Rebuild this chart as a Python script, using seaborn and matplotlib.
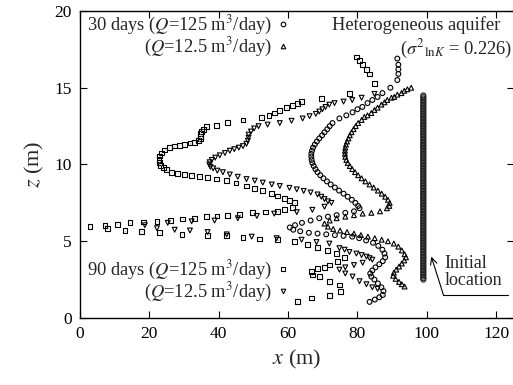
import matplotlib
matplotlib.use("Agg")
import matplotlib.pyplot as plt
import seaborn as sns
from matplotlib.lines import Line2D

# ---------------- data ----------------
# 30 days, Q = 125 m3/day (circles)
a_x = [91.5, 91.8, 91.8, 91.8, 91.5, 89.5,
       87.2, 85.8, 84.3, 82.9, 81.4, 80.0, 78.6, 76.8, 74.8, 72.8,
       72.0, 71.3, 70.5, 69.8, 69.0, 68.3, 67.7, 67.2, 66.9, 66.7, 66.7, 66.8, 67.0,
       67.4, 67.9, 68.5, 69.3, 70.2, 71.2, 72.3, 73.5, 74.7, 76.0, 77.2, 78.4, 79.4,
       80.2, 80.6,
       79.0, 76.5, 74.0, 71.5, 69.0, 66.5, 64.0, 62.0, 60.5,
       61.5, 63.5, 66.0, 68.5, 71.0, 73.5, 76.0, 78.5, 80.5, 82.5, 84.5, 86.0, 87.2,
       87.8, 88.0, 87.3, 86.3, 85.2, 84.3, 83.7, 84.0, 84.9, 85.9, 86.9, 87.5, 87.3,
       86.3, 85.0, 83.5]
a_z = [16.9, 16.5, 16.2, 15.9, 15.5, 15.0,
       14.65, 14.4, 14.2, 14.0, 13.75, 13.6, 13.4, 13.2, 13.0, 12.7,
       12.5, 12.3, 12.1, 11.9, 11.7, 11.5, 11.3, 11.1, 10.9, 10.7, 10.5, 10.3, 10.1,
       9.9, 9.7, 9.5, 9.3, 9.1, 8.9, 8.7, 8.5, 8.3, 8.1, 7.9, 7.7, 7.5,
       7.3, 7.15,
       6.95, 6.85, 6.7, 6.6, 6.5, 6.35, 6.2, 6.05, 5.9,
       5.75, 5.65, 5.55, 5.5, 5.45, 5.4, 5.35, 5.3, 5.2, 5.05, 4.9, 4.7, 4.45,
       4.2, 3.95, 3.7, 3.5, 3.3, 3.1, 2.9, 2.7, 2.5, 2.25, 2.0, 1.75, 1.5,
       1.35, 1.2, 1.05]

# 30 days, Q = 12.5 m3/day (up triangles)
b_x = [95.5, 94.4, 93.5, 92.7, 91.5, 90.6, 89.8, 88.6, 87.8, 86.9, 85.8, 84.9, 84.0,
       82.9, 82.0, 81.2,
       80.2, 79.5, 78.9, 78.3, 77.8, 77.4, 77.0, 76.7, 76.5, 76.4, 76.4, 76.5, 76.8,
       77.2, 77.8, 78.5, 79.3, 80.2, 81.2, 82.3, 83.5, 84.7, 85.9, 87.0, 88.0, 88.8,
       89.3, 89.2, 88.5,
       86.5, 84.0, 81.5, 79.0, 76.5, 74.0, 72.0, 70.5,
       71.5, 73.0, 75.0, 77.0, 79.0, 81.0, 83.0, 85.0, 87.0, 88.8, 90.5, 91.8, 92.8,
       93.6, 94.0, 93.5, 92.8, 92.0, 91.2, 90.5, 90.3, 91.0, 92.0, 92.8, 93.6]
b_z = [15.0, 14.9, 14.8, 14.65, 14.55, 14.4, 14.35, 14.2, 14.05, 13.9, 13.7, 13.55, 13.35,
       13.2, 13.1, 12.9,
       12.7, 12.5, 12.3, 12.1, 11.9, 11.7, 11.5, 11.3, 11.1, 10.9, 10.7, 10.5, 10.3,
       10.1, 9.9, 9.7, 9.5, 9.3, 9.1, 8.9, 8.7, 8.5, 8.3, 8.1, 7.9, 7.7,
       7.5, 7.3, 7.15,
       6.95, 6.85, 6.8, 6.7, 6.6, 6.5, 6.35, 6.15,
       5.95, 5.8, 5.7, 5.6, 5.5, 5.4, 5.3, 5.2, 5.1, 5.0, 4.85, 4.65, 4.4,
       4.15, 3.95, 3.75, 3.55, 3.35, 3.15, 2.95, 2.75, 2.55, 2.35, 2.2, 2.05]

# 90 days, Q = 125 m3/day (squares)
c_x = [79.7, 80.6, 81.4, 82.5, 83.5, 84.9, 77.7, 69.6, 63.9, 62.7, 61.3, 59.6, 57.6,
       56.2, 54.5, 52.4, 47.0, 42.6, 39.4, 36.5, 35.6, 35.0, 34.7, 34.8, 34.7, 34.2,
       33.1, 31.7, 30.2, 28.6, 27.2, 25.7, 24.4, 23.5, 23.0, 22.8, 22.9, 23.3, 24.0,
       25.0, 26.5, 28.2, 30.2, 32.2, 34.5, 36.8, 39.4, 42.3, 45.0, 48.0, 50.4, 52.7,
       55.3, 57.0, 59.0, 60.4, 61.9,
       61.3, 59.0, 57.0, 53.5, 49.8, 46.0, 42.6, 39.5, 36.5, 33.0, 29.6, 26.0, 22.2,
       18.3, 14.4, 10.8, 7.2, 2.9,
       8.0, 13.0, 17.8, 23.0, 29.4, 36.8, 42.3, 47.0, 51.8, 57.0, 61.9, 65.5, 68.5,
       71.4, 74.0, 76.3, 74.2, 72.0, 70.5, 68.5, 66.8, 67.0, 69.0, 71.9, 74.8, 75.1,
       71.9, 66.8, 62.7]
c_z = [17.0, 16.75, 16.5, 16.2, 15.9, 15.3, 14.65, 14.3, 14.1, 14.0, 13.85, 13.7, 13.5,
       13.35, 13.2, 13.05, 12.9, 12.75, 12.55, 12.45, 12.3, 12.15, 12.0, 11.85, 11.7, 11.55,
       11.45, 11.4, 11.3, 11.25, 11.2, 11.1, 10.95, 10.75, 10.55, 10.35, 10.15, 9.95, 9.8,
       9.65, 9.5, 9.42, 9.35, 9.3, 9.22, 9.15, 9.05, 8.95, 8.8, 8.6, 8.45, 8.3,
       8.1, 7.95, 7.8, 7.65, 7.5,
       7.2, 7.05, 6.95, 6.9, 6.85, 6.75, 6.7, 6.65, 6.6, 6.5, 6.45, 6.35, 6.3,
       6.25, 6.2, 6.1, 6.05, 5.95,
       5.85, 5.7, 5.65, 5.55, 5.45, 5.4, 5.35, 5.25, 5.15, 5.1, 5.0, 4.8, 4.6,
       4.4, 4.2, 3.95, 3.7, 3.45, 3.3, 3.2, 3.05, 2.8, 2.7, 2.4, 2.15, 1.75,
       1.45, 1.3, 1.05]

# 90 days, Q = 12.5 m3/day (down triangles)
d_x = [84.9, 81.2, 78.5, 76.0, 73.4, 71.9, 70.8, 69.9, 69.0, 68.0, 66.2, 64.2, 61.0,
       57.6, 54.1, 51.5, 50.2, 49.3, 48.6, 48.6, 48.4, 48.0, 47.0, 45.8, 44.5, 43.2,
       41.8, 40.3, 39.0, 38.0, 37.4, 37.3, 37.6, 38.4, 39.6, 41.2, 43.2, 45.5, 48.0,
       50.4, 52.7, 55.3, 57.6, 60.4, 62.5, 64.5, 66.5, 68.5, 69.6, 70.5, 71.5, 72.5,
       70.5, 67.0, 62.5, 56.0, 51.0, 45.5, 38.8, 32.2, 25.3, 18.7,
       22.2, 27.3, 31.7, 36.8, 42.3, 49.5, 56.7, 63.9, 68.2, 71.9, 74.8, 76.3, 77.7,
       79.7, 81.2, 82.6, 83.5, 84.3, 81.5, 79.0, 76.5, 74.8, 76.5, 78.6, 80.6, 82.6,
       84.3, 85.8]
d_z = [14.6, 14.35, 14.2, 14.1, 14.0, 13.9, 13.75, 13.6, 13.45, 13.3, 13.15, 13.0, 12.85,
       12.7, 12.6, 12.5, 12.35, 12.15, 11.95, 11.75, 11.55, 11.35, 11.2, 11.1, 11.0, 10.9,
       10.75, 10.6, 10.45, 10.3, 10.15, 10.0, 9.85, 9.75, 9.6, 9.5, 9.35, 9.2, 9.05,
       8.95, 8.82, 8.7, 8.6, 8.48, 8.38, 8.28, 8.18, 8.05, 7.9, 7.75, 7.6, 7.5,
       7.25, 7.05, 6.9, 6.8, 6.65, 6.5, 6.35, 6.3, 6.2, 6.05,
       5.85, 5.75, 5.7, 5.6, 5.45, 5.3, 5.2, 5.1, 4.95, 4.85, 4.55, 4.45, 4.3,
       4.2, 4.1, 4.0, 3.9, 3.8, 3.6, 3.45, 3.3, 3.15, 2.9, 2.7, 2.4, 2.2,
       2.0, 1.9]

# initial particle location (x = 99 m, z = 2.5 ... 14.5 m)
init_z = [2.5, 2.6, 2.7, 2.8, 2.9, 3.0, 3.1, 3.2, 3.3, 3.4, 3.5, 3.6, 3.7, 3.8, 3.9,
          4.0, 4.1, 4.2, 4.3, 4.4, 4.5, 4.6, 4.7, 4.8, 4.9, 5.0, 5.1, 5.2, 5.3, 5.4,
          5.5, 5.6, 5.7, 5.8, 5.9, 6.0, 6.1, 6.2, 6.3, 6.4, 6.5, 6.6, 6.7, 6.8, 6.9,
          7.0, 7.1, 7.2, 7.3, 7.4, 7.5, 7.6, 7.7, 7.8, 7.9, 8.0, 8.1, 8.2, 8.3, 8.4,
          8.5, 8.6, 8.7, 8.8, 8.9, 9.0, 9.1, 9.2, 9.3, 9.4, 9.5, 9.6, 9.7, 9.8, 9.9,
          10.0, 10.1, 10.2, 10.3, 10.4, 10.5, 10.6, 10.7, 10.8, 10.9, 11.0, 11.1, 11.2,
          11.3, 11.4, 11.5, 11.6, 11.7, 11.8, 11.9, 12.0, 12.1, 12.2, 12.3, 12.4, 12.5,
          12.6, 12.7, 12.8, 12.9, 13.0, 13.1, 13.2, 13.3, 13.4, 13.5, 13.6, 13.7, 13.8,
          13.9, 14.0, 14.1, 14.2, 14.3, 14.4, 14.5]
init_x = [99.0] * len(init_z)

labels = ["30 days ($\\mathit{Q}$=125 m$^3$/day)",
          "($\\mathit{Q}$=12.5 m$^3$/day)",
          "90 days ($\\mathit{Q}$=125 m$^3$/day)",
          "($\\mathit{Q}$=12.5 m$^3$/day)"]
x_ticks = [0, 20, 40, 60, 80, 100, 120]
z_ticks = [0, 5, 10, 15, 20]

# annotation geometry
arrow_tip = (101.3, 4.0)
arrow_tail = (104.8, 1.5)
underline_end = 123.5

# ---------------- style ----------------
sns.set_theme(style="ticks")
plt.rcParams["font.family"] = ["Liberation Serif", "DejaVu Serif"]
plt.rcParams["mathtext.fontset"] = "stix"

fig = plt.figure(figsize=(5.13, 3.85), dpi=100)
ax = fig.add_axes([80 / 513, 67 / 385, 433.5 / 513, 307 / 385])

common = dict(ax=ax, linewidth=0.8, zorder=3, legend=False)
dot = dict(ax=ax, marker=".", s=1.0, color="black", linewidth=0, zorder=4, legend=False)

sns.scatterplot(x=init_x, y=init_z, marker="o", s=13, fc="none", ec="#222222", **common)
sns.scatterplot(x=a_x, y=a_z, marker="o", s=12, fc="none", ec="black", **common)
sns.scatterplot(x=a_x, y=a_z, **dot)
sns.scatterplot(x=b_x, y=b_z, marker="^", s=12, fc="none", ec="black", **common)
sns.scatterplot(x=c_x, y=c_z, marker="s", s=12, fc="none", ec="black", **common)
sns.scatterplot(x=c_x, y=c_z, **dot)
sns.scatterplot(x=d_x, y=d_z, marker="v", s=12, fc="none", ec="black", **common)


def handle(m, ms):
    return Line2D([], [], linestyle="none", marker=m, markersize=ms, mfc="none",
                  mec="black", mew=0.8)


leg_kw = dict(frameon=False, markerfirst=False, fontsize=13.3, handlelength=0.5,
              handletextpad=0.3, labelspacing=-0.05, borderaxespad=0.0,
              borderpad=0.0)
leg1 = ax.legend([handle("o", 3.3), handle("^", 3.3)], labels[:2], loc="upper left",
                 bbox_to_anchor=(0.017, 0.99), **leg_kw)
ax.add_artist(leg1)
ax.legend([handle("s", 3.3), handle("v", 3.3)], labels[2:], loc="lower left",
          bbox_to_anchor=(0.017, 0.045), **leg_kw)

ax.text(0.969, 0.955, "Heterogeneous aquifer", transform=ax.transAxes,
        ha="right", va="center", fontsize=13.3)
ax.text(0.997, 0.875, "($\\sigma^{2}{}_{\\mathrm{ln}\\mathit{K}}$ = 0.226)",
        transform=ax.transAxes, ha="right", va="center", fontsize=13.3)

ax.text(arrow_tail[0] + 0.3, 3.0, "Initial\nlocation", ha="left", va="center",
        fontsize=13, linespacing=1.0)
ax.annotate("", xy=arrow_tip, xytext=arrow_tail,
            arrowprops=dict(arrowstyle="->", lw=0.8, color="black",
                            shrinkA=0, shrinkB=0))
ax.plot([arrow_tail[0], underline_end], [arrow_tail[1], arrow_tail[1]],
        color="black", lw=0.8, clip_on=False)

ax.set_xlim(0, 125)
ax.set_ylim(0, 20)
ax.set_xticks(x_ticks)
ax.set_yticks(z_ticks)
ax.tick_params(direction="in", top=True, right=True, length=5, width=0.8,
               labelsize=12.5, pad=6, colors="black")
for s in ax.spines.values():
    s.set_visible(True)
    s.set_linewidth(1.0)
    s.set_color("black")
ax.set_xlabel("$\\mathit{x}$ (m)", fontsize=16, labelpad=4)
ax.set_ylabel("$\\mathit{z}$ (m)", fontsize=16, labelpad=6)

fig.savefig("out.png", dpi=100)
